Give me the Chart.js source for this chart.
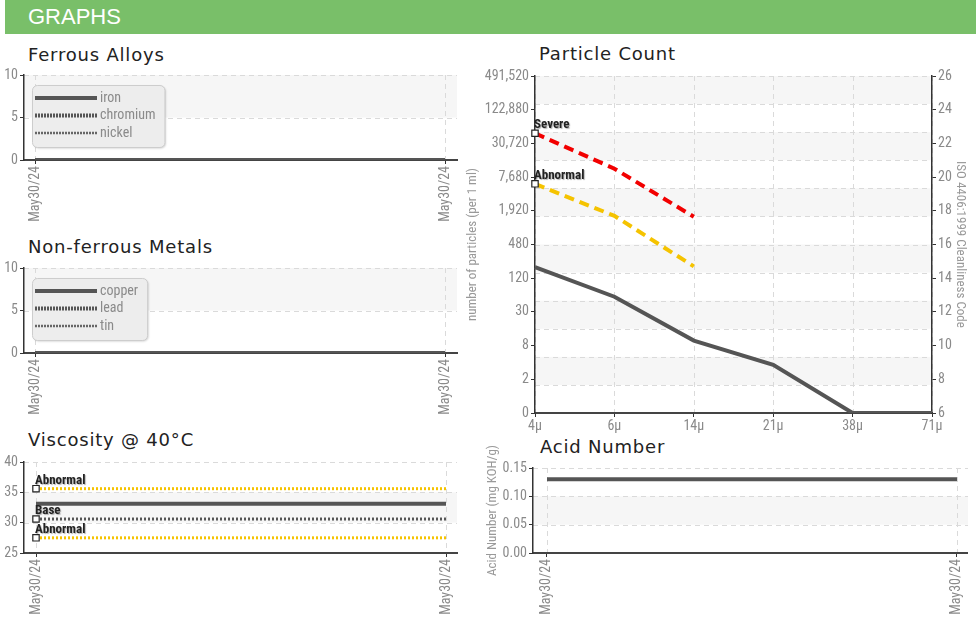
<!DOCTYPE html>
<html>
<head>
<meta charset="utf-8">
<script src="https://cdn.jsdelivr.net/npm/chart.js@4.4.1/dist/chart.umd.min.js"></script>
<style>
    html, body { margin: 0; padding: 0; background: #fff; width: 976px; height: 634px; overflow: hidden; }
    body { position: relative; }
    .bar { position: absolute; left: 5px; top: 0; width: 971px; height: 34px; background: #79bf69; }
    .bar span { position: absolute; left: 23px; top: 6px; color: #fff; font: 22px 'Liberation Sans', Arial, sans-serif; line-height: 22px; }
    .ttl { position: absolute; font: 18px 'DejaVu Sans', Verdana, sans-serif; color: #222; letter-spacing: 0.8px; line-height: 18px; white-space: nowrap; }
    canvas { position: absolute; }
</style>
</head>
<body>
<div class="bar"><span>GRAPHS</span></div>

<div class="ttl" style="left:28px;top:46px">Ferrous Alloys</div>
<div class="ttl" style="left:28px;top:238px">Non-ferrous Metals</div>
<div class="ttl" style="left:28px;top:431px">Viscosity @ 40°C</div>
<div class="ttl" style="left:539px;top:45px">Particle Count</div>
<div class="ttl" style="left:540px;top:438px">Acid Number</div>

<canvas id="ferrousChart"></canvas>
<canvas id="nonFerrousChart"></canvas>
<canvas id="viscosityChart"></canvas>
<canvas id="particleChart"></canvas>
<canvas id="acidChart"></canvas>

<script>
// Sample dates (x axis of the trend panels)
const dates = ['May30/24', 'May30/24'];

// Ferrous alloys (ppm)
const ironVals = [0, 0];
const chromiumVals = [0, 0];
const nickelVals = [0, 0];

// Non-ferrous metals (ppm)
const copperVals = [0, 0];
const leadVals = [0, 0];
const tinVals = [0, 0];

// Viscosity @ 40C (cSt) and its limits
const viscosityVals = [33.1, 33.1];
const viscAbnormalHigh = [35.6, 35.6];
const viscBase = [30.6, 30.6];
const viscAbnormalLow = [27.5, 27.5];

// Acid number (mg KOH/g)
const acidVals = [0.13, 0.13];

// Particle count, plotted as ISO 4406 code
const particleSizes = ['4μ', '6μ', '14μ', '21μ', '38μ', '71μ'];
const isoCodes = [14.65, 12.9, 10.3, 8.86, 6, 6];
const severeCodes = [22.6, 20.5, 17.65];
const abnormalCodes = [19.6, 17.7, 14.7];
const countTickLabels = ['0', '2', '8', '30', '120', '480', '1,920', '7,680', '30,720', '122,880', '491,520'];
const isoTickLabels = ['6', '8', '10', '12', '14', '16', '18', '20', '22', '24', '26'];

const TICK_FONT = "'Liberation Sans Narrow', 'Roboto Condensed', 'DejaVu Sans Condensed', sans-serif";
const TICK_COLOR = '#8a8a8a';
const LINE_COLOR = '#555555';
const AXIS_COLOR = '#333333';

/**
 * Alternating grey bands + dashed grid, drawn before the axes
 */
const bandPlugin = {
    id: 'bands',
    beforeDraw(chart, args, opts) {
        const { ctx, chartArea: a, scales } = chart;
        const n = opts.divisions || (scales.y.ticks.length - 1);
        const h = (a.bottom - a.top) / n;
        ctx.save();
        ctx.fillStyle = '#f6f6f6';
        for (let i = 1; i < n; i += 2) {
            ctx.fillRect(a.left, a.bottom - (i + 1) * h, a.right - a.left, h);
        }
        ctx.strokeStyle = '#dadada';
        ctx.lineWidth = 1;
        ctx.setLineDash([5, 4]);
        ctx.beginPath();
        for (let i = 1; i <= n; i++) {
            const y = Math.round(a.bottom - i * h) + 0.5;
            ctx.moveTo(a.left, y);
            ctx.lineTo(a.right, y);
        }
        scales.x.ticks.forEach((t, i) => {
            const x = Math.round(scales.x.getPixelForTick(i)) + 0.5;
            ctx.moveTo(x, a.top);
            ctx.lineTo(x, a.bottom);
        });
        ctx.stroke();
        ctx.restore();
    }
};

/**
 * Legend box drawn inside the plot area
 */
const boxLegend = {
    id: 'boxLegend',
    afterDatasetsDraw(chart, args, opts) {
        if (!opts.display) return;
        const { ctx, chartArea: a } = chart;
        const sets = chart.data.datasets;
        ctx.save();
        ctx.font = '14px ' + TICK_FONT;
        const textW = Math.max(...sets.map(d => ctx.measureText(d.label).width));
        const x = a.left + 8, y = a.top + 10;
        const w = 68 + textW + 9, h = 62;
        ctx.beginPath();
        ctx.roundRect(x + 0.5, y + 0.5, w, h, 5);
        ctx.shadowColor = 'rgba(0,0,0,0.18)';
        ctx.shadowBlur = 2;
        ctx.shadowOffsetX = 1;
        ctx.shadowOffsetY = 1;
        ctx.fillStyle = '#ededed';
        ctx.fill();
        ctx.shadowColor = 'transparent';
        ctx.strokeStyle = '#cdcdcd';
        ctx.lineWidth = 1;
        ctx.stroke();
        sets.forEach((d, i) => {
            const ly = y + 13 + i * 17.5;
            ctx.beginPath();
            ctx.setLineDash(d.borderDash || []);
            ctx.lineWidth = d.borderWidth;
            ctx.strokeStyle = d.borderColor;
            ctx.moveTo(x + 3, ly);
            ctx.lineTo(x + 65, ly);
            ctx.stroke();
            ctx.setLineDash([]);
            ctx.fillStyle = TICK_COLOR;
            ctx.textBaseline = 'middle';
            ctx.fillText(d.label, x + 68, ly);
        });
        ctx.restore();
    }
};

/**
 * Limit tags ("Severe", "Abnormal", "Base") next to the first point
 */
const tagLabels = {
    id: 'tagLabels',
    afterDatasetsDraw(chart) {
        const { ctx } = chart;
        chart.data.datasets.forEach((d, i) => {
            if (!d.tag) return;
            const pt = chart.getDatasetMeta(i).data[0];
            ctx.save();
            ctx.font = 'bold 13px ' + TICK_FONT;
            ctx.fillStyle = '#222';
            ctx.textAlign = 'left';
            ctx.textBaseline = 'alphabetic';
            ctx.shadowColor = 'rgba(0,0,0,0.3)';
            ctx.shadowOffsetX = 1;
            ctx.shadowOffsetY = 1;
            ctx.shadowBlur = 1;
            ctx.fillText(d.tag, pt.x - 1, pt.y - 5);
            ctx.restore();
        });
    }
};

function placeCanvas(id, rect) {
    const el = document.getElementById(id);
    el.width = rect.width;
    el.height = rect.height;
    el.style.left = rect.left + 'px';
    el.style.top = rect.top + 'px';
    return el;
}

function lineSet(label, values, opts) {
    return Object.assign({
        label: label,
        data: values,
        borderColor: LINE_COLOR,
        borderWidth: 4,
        pointRadius: 0,
        fill: false,
        tension: 0
    }, opts || {});
}

function tagSet(tag, values, color, dash, width) {
    return lineSet(tag, values, {
        tag: tag,
        borderColor: color,
        borderDash: dash,
        borderWidth: width,
        borderCapStyle: 'butt',
        pointStyle: 'rect',
        pointRadius: values.map((v, i) => i === 0 ? 4.5 : 0),
        pointBackgroundColor: '#fff',
        pointBorderColor: '#222',
        pointBorderWidth: 1.2
    });
}

function tickFont() {
    return { family: TICK_FONT, size: 14 };
}

function axisTitle(text, outer) {
    return {
        display: true,
        text: text,
        color: '#999',
        font: { family: TICK_FONT, size: 13 },
        padding: { top: outer, bottom: 0 }
    };
}

/**
 * Trend panel with two sample dates on a linear x axis
 */
function datePanel(id, rect, area, pointsPx, yAxis, datasets, showLegend) {
    const ctx = placeCanvas(id, rect);
    const unit = pointsPx[1] - pointsPx[0];
    const xMin = -(pointsPx[0] - area.left) / unit;
    const xMax = 1 + (area.right - pointsPx[1]) / unit;
    datasets.forEach(d => {
        d.data = d.data.map((v, i) => ({ x: i, y: v }));
    });
    return new Chart(ctx, {
        type: 'line',
        data: { datasets: datasets },
        plugins: [bandPlugin, boxLegend, tagLabels],
        options: {
            responsive: false,
            animation: false,
            events: [],
            layout: { padding: { top: area.top - rect.top, right: rect.left + rect.width - area.right, left: 0, bottom: 0 } },
            plugins: {
                legend: { display: false },
                tooltip: { enabled: false },
                bands: {},
                boxLegend: { display: !!showLegend }
            },
            scales: {
                x: {
                    type: 'linear',
                    min: xMin,
                    max: xMax,
                    afterBuildTicks: s => { s.ticks = dates.map((d, i) => ({ value: i })); },
                    afterFit: s => { s.height = rect.top + rect.height - area.bottom; },
                    ticks: {
                        autoSkip: false,
                        minRotation: 90,
                        maxRotation: 90,
                        padding: 2,
                        color: TICK_COLOR,
                        font: tickFont(),
                        callback: v => dates[v]
                    },
                    grid: { drawOnChartArea: false, tickLength: 4, tickColor: AXIS_COLOR },
                    border: { color: '#444', width: 2 }
                },
                y: {
                    min: yAxis.min,
                    max: yAxis.max,
                    afterFit: s => { s.width = area.left - rect.left; },
                    ticks: {
                        stepSize: yAxis.step,
                        padding: 2,
                        color: TICK_COLOR,
                        font: tickFont(),
                        callback: yAxis.format || (v => v)
                    },
                    grid: { drawOnChartArea: false, tickLength: 4, tickColor: AXIS_COLOR },
                    border: { color: AXIS_COLOR, width: 1.5 },
                    title: yAxis.title ? axisTitle(yAxis.title, 5) : { display: false }
                }
            }
        }
    });
}

// Ferrous Alloys
datePanel('ferrousChart',
    { left: 0, top: 62, width: 470, height: 162 },
    { left: 24, top: 75, right: 457, bottom: 160 },
    [35, 445],
    { min: 0, max: 10, step: 5 },
    [
        lineSet('iron', ironVals),
        lineSet('chromium', chromiumVals, { borderDash: [2, 1] }),
        lineSet('nickel', nickelVals, { borderDash: [2, 1], borderWidth: 2.5, borderColor: '#666' })
    ],
    true);

// Non-ferrous Metals
datePanel('nonFerrousChart',
    { left: 0, top: 255, width: 470, height: 170 },
    { left: 24, top: 268, right: 457, bottom: 353 },
    [35, 445],
    { min: 0, max: 10, step: 5 },
    [
        lineSet('copper', copperVals),
        lineSet('lead', leadVals, { borderDash: [2, 1] }),
        lineSet('tin', tinVals, { borderDash: [2, 1], borderWidth: 2.5, borderColor: '#666' })
    ],
    true);

// Viscosity @ 40C
datePanel('viscosityChart',
    { left: 0, top: 449, width: 470, height: 185 },
    { left: 24, top: 462, right: 457, bottom: 553 },
    [36, 446],
    { min: 25, max: 40, step: 5 },
    [
        tagSet('Abnormal', viscAbnormalHigh, '#f5c300', [2, 2], 3),
        tagSet('Base', viscBase, '#555', [2, 2], 3),
        tagSet('Abnormal', viscAbnormalLow, '#f5c300', [2, 2], 3),
        lineSet('viscosity', viscosityVals)
    ],
    false);

// Acid Number
datePanel('acidChart',
    { left: 480, top: 430, width: 496, height: 204 },
    { left: 533, top: 468, right: 968, bottom: 553 },
    [547, 957],
    { min: 0, max: 0.15, step: 0.05, format: v => v.toFixed(2), title: 'Acid Number (mg KOH/g)' },
    [lineSet('acid', acidVals)],
    false);

// Particle Count
(function initializeParticleChart() {
    const rect = { left: 460, top: 62, width: 511, height: 378 };
    const area = { left: 535, top: 76, right: 932, bottom: 413 };
    const ctx = placeCanvas('particleChart', rect);
    const sideAxis = (position, labels, title, width, outer) => ({
        position: position,
        min: 6,
        max: 26,
        afterFit: s => { s.width = width; },
        ticks: {
            stepSize: 2,
            padding: 2,
            color: TICK_COLOR,
            font: tickFont(),
            callback: (v, i) => labels[i]
        },
        grid: { drawOnChartArea: false, tickLength: 4, tickColor: AXIS_COLOR },
        border: { color: AXIS_COLOR, width: 1.5 },
        title: axisTitle(title, outer)
    });

    new Chart(ctx, {
        type: 'line',
        data: {
            labels: particleSizes,
            datasets: [
                tagSet('Severe', severeCodes, '#f20000', [10, 6], 4),
                tagSet('Abnormal', abnormalCodes, '#f5c300', [10, 6], 4),
                lineSet('count', isoCodes)
            ]
        },
        plugins: [bandPlugin, tagLabels],
        options: {
            responsive: false,
            animation: false,
            events: [],
            layout: { padding: { top: area.top - rect.top, right: 0, left: 0, bottom: 0 } },
            plugins: {
                legend: { display: false },
                tooltip: { enabled: false },
                bands: { divisions: 12 }
            },
            scales: {
                x: {
                    offset: false,
                    afterFit: s => { s.height = rect.top + rect.height - area.bottom; },
                    ticks: { maxRotation: 0, autoSkip: false, padding: 1, color: TICK_COLOR, font: tickFont() },
                    grid: { drawOnChartArea: false, tickLength: 4, tickColor: AXIS_COLOR },
                    border: { color: '#444', width: 2 }
                },
                y: sideAxis('left', countTickLabels, 'number of particles (per 1 ml)', area.left - rect.left, 5),
                y2: sideAxis('right', isoTickLabels, 'ISO 4406:1999 Cleanliness Code', rect.left + rect.width - area.right, 3)
            }
        }
    });
})();
</script>
</body>
</html>
